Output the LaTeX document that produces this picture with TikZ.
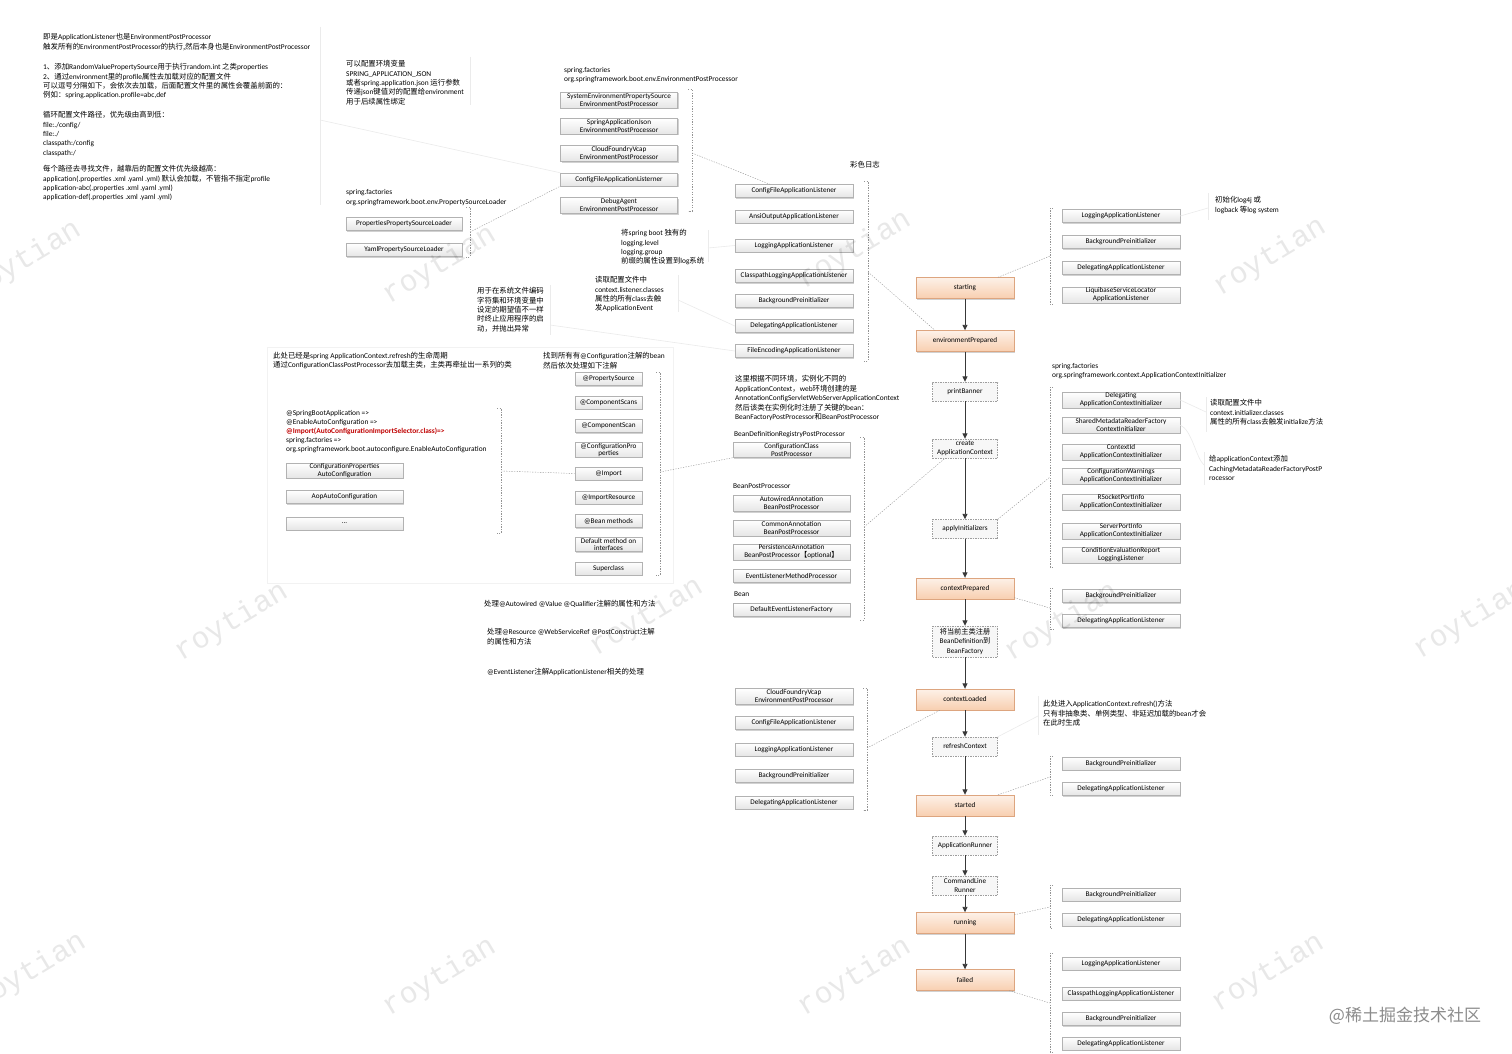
\documentclass[tikz,border=0pt]{standalone}
\usepackage{fontspec}
\setmainfont{Carlito}
\newfontfamily\cjk{Noto Sans CJK SC}
\newfontfamily\wmfont{Liberation Mono}
\usetikzlibrary{arrows.meta,shadows}
\newcommand\zh[1]{{\cjk #1}}
\newcommand\bxf{\fontsize{7.2}{8}\selectfont}
\newcommand\ntf{\fontsize{7.4}{9.3}\selectfont}
\definecolor{obord}{HTML}{DDA57F}
\definecolor{otop}{HTML}{FDF1E8}
\definecolor{obot}{HTML}{F8CFB0}
\definecolor{redt}{HTML}{C00000}
\begin{document}
\begin{tikzpicture}[x=1pt,y=-1pt,
  lb/.style={draw=black!30, top color=white, bottom color=black!10, minimum height=13pt, inner sep=0.5pt, font=\bxf, align=center,
    drop shadow={shadow xshift=1pt, shadow yshift=-1pt, opacity=0.18, fill=black}},
  lb2/.style={lb, minimum height=16pt},
  w118/.style={minimum width=118pt},
  w117/.style={minimum width=117pt},
  w67/.style={minimum width=67pt},
  ob/.style={draw=obord, top color=otop, bottom color=obot, minimum width=98pt, minimum height=21pt, font=\bxf, inner sep=0pt,
    drop shadow={shadow xshift=1pt, shadow yshift=-1pt, opacity=0.18, fill=black}},
  db/.style={draw=black!38, dash pattern=on 1.5pt off 1pt, fill=black!3, minimum width=65pt, minimum height=19pt, font=\bxf, align=center, inner sep=0.5pt},
  flow/.style={draw=black!78, line width=0.9pt, -{Triangle[length=5.5pt,width=5pt]}},
  conn/.style={draw=black!42, line width=0.4pt, dash pattern=on 1.3pt off 1.3pt},
  faint/.style={draw=black!8, line width=0.6pt},
  note/.style={anchor=north west, inner sep=0pt, font=\ntf, align=left},
  wm/.style={font=\wmfont\fontsize{30}{30}\selectfont, text=black, opacity=0.09, rotate=31}
]
\fill[white] (0,0) rectangle (1512,1054);
\useasboundingbox (0,0) rectangle (1512,1054);

% ---------- faint annotation lines ----------
\draw[faint, draw=black!5] (267,347) rectangle (673,583);
\draw[faint] (320,27) -- (320,205);
\draw[faint] (470,57) -- (470,105);
\draw[faint] (550,285) -- (550,335);
\draw[faint] (678,275) -- (678,312);
\draw[faint] (708,230) -- (708,262);
\draw[faint] (1208,193) -- (1208,220);
\draw[faint] (1206,397) -- (1206,432);
\draw[faint] (1204,452) -- (1204,485);
\draw[faint] (1038,696) -- (1038,735);

% ---------- top-left notes ----------
\node[note] (tl1) at (43,33.5) {\zh{即是}ApplicationListener\zh{也是}EnvironmentPostProcessor\\
\zh{触发所有的}EnvironmentPostProcessor\zh{的执行,然后本身也是}EnvironmentPostProcessor};
\node[note] (tl2) at (43,63.5) {1\zh{、添加}RandomValuePropertySource\zh{用于执行}random.int \zh{之类}properties\\
2\zh{、通过}environment\zh{里的}profile\zh{属性去加载对应的配置文件}\\
\zh{可以逗号分隔如下，会依次去加载，后面配置文件里的属性会覆盖前面的：}\\
\zh{例如：}spring.application.profile=abc,def};
\node[note] (tl3) at (43,111.5) {\zh{循环配置文件路径，优先级由高到低：}\\
file:./config/\\ file:./\\ classpath:/config\\ classpath:/};
\node[note] (tl4) at (43,165.5) {\zh{每个路径去寻找文件，越靠后的配置文件优先级越高：}\\
application(.properties .xml .yaml .yml) \zh{默认会加载，不管指不指定}profile\\
application-abc(.properties .xml .yaml .yml)\\
application-def(.properties .xml .yaml .yml)};

\node[note] (jsonnote) at (346,60.5) {\zh{可以配置环境变量}\\
SPRING\_APPLICATION\_JSON\\
\zh{或者}spring.application.json \zh{运行参数}\\
\zh{传递}json\zh{键值对的配置给}environment\\
\zh{用于后续属性绑定}};

\node[note] (sf1) at (564,67) {spring.factories\\ org.springframework.boot.env.EnvironmentPostProcessor};
\node[note] (sf2) at (346,189.5) {spring.factories\\ org.springframework.boot.env.PropertySourceLoader};
\node[note] (lognote) at (621,229.5) {\zh{将}spring boot \zh{独有的}\\ logging.level\\ logging.group\\ \zh{前缀的属性设置到}log\zh{系统}};
\node[note] (lsnnote) at (595,276.5) {\zh{读取配置文件中}\\ context.listener.classes\\ \zh{属性的所有}class\zh{去触}\\ \zh{发}ApplicationEvent};
\node[note] (encnote) at (477,287.5) {\zh{用于在系统文件编码}\\ \zh{字符集和环境变量中}\\ \zh{设定的期望值不一样}\\ \zh{时终止应用程序的启}\\ \zh{动，并抛出异常}};
\node[note] (cs) at (850,161.5) {\zh{彩色日志}};
\node[note] (log4j) at (1215,196.5) {\zh{初始化}log4j \zh{或}\\ logback \zh{等}log system};

\node[note] (refnote) at (273,351.5) {\zh{此处已经是}spring ApplicationContext.refresh\zh{的生命周期}\\
\zh{通过}ConfigurationClassPostProcessor\zh{去加载主类，主类再牵扯出一系列的类}};
\node[note] (cfgnote) at (543,352.5) {\zh{找到所有有}@Configuration\zh{注解的}bean\\ \zh{然后依次处理如下注解}};
\node[note, font=\fontsize{7.4}{9}\selectfont] (sba) at (286,410.5) {@SpringBootApplication =>\\ @EnableAutoConfiguration =>\\
{\color{redt}\bfseries @Import(AutoConfigurationImportSelector.class)=>}\\ spring.factories =>\\
org.springframework.boot.autoconfigure.EnableAutoConfiguration};

\node[note, font=\fontsize{7.4}{9.5}\selectfont] (ctxnote) at (735,375.5) {\zh{这里根据不同环境，实例化不同的}\\
ApplicationContext\zh{，}web\zh{环境创建的是}\\
AnnotationConfigServletWebServerApplicationContext\\
\zh{然后该类在实例化时注册了关键的}bean\zh{：}\\
BeanFactoryPostProcessor\zh{和}BeanPostProcessor};
\node[note] (bdrpp) at (734,431.5) {BeanDefinitionRegistryPostProcessor};
\node[note] (bpplab) at (733,483.5) {BeanPostProcessor};
\node[note] (beanlab) at (734,591.5) {Bean};

\node[note] (sf3) at (1052,363) {spring.factories\\ org.springframework.context.ApplicationContextInitializer};
\node[note] (ininote) at (1210,399.5) {\zh{读取配置文件中}\\ context.initializer.classes\\ \zh{属性的所有}class\zh{去触发}initialize\zh{方法}};
\node[note] (cachenote) at (1209,455.5) {\zh{给}applicationContext\zh{添加}\\ CachingMetadataReaderFactoryPostP\\ rocessor};

\node[note] (autonote) at (484,600.5) {\zh{处理}@Autowired @Value @Qualifier\zh{注解的属性和方法}};
\node[note] (resnote) at (487,628.5) {\zh{处理}@Resource @WebServiceRef @PostConstruct\zh{注解}\\ \zh{的属性和方法}};
\node[note] (evlnote) at (487,668.5) {@EventListener\zh{注解}ApplicationListener\zh{相关的处理}};
\node[note] (ref2note) at (1043,700.5) {\zh{此处进入}ApplicationContext.refresh()\zh{方法}\\
\zh{只有非抽象类、单例类型、非延迟加载的}bean\zh{才会}\\ \zh{在此时生成}};

% ---------- main flow ----------
\node[ob] (st) at (965,288) {starting};
\node[ob] (envp) at (965,341) {environmentPrepared};
\node[db] (pb) at (965,391.5) {printBanner};
\node[db, font=\fontsize{7.2}{9}\selectfont] (cac) at (965,448.5) {create\\ApplicationContext};
\node[db] (ai) at (965,529) {applyInitializers};
\node[ob] (cp) at (965,588.5) {contextPrepared};
\node[db, minimum height=31pt, font=\fontsize{7.2}{9.3}\selectfont] (reg) at (965,641.5) {\zh{将当前主类注册}\\BeanDefinition\zh{到}\\BeanFactory};
\node[ob] (cl) at (965,699.5) {contextLoaded};
\node[db] (rc) at (965,746.5) {refreshContext};
\node[ob] (sd) at (965,805.5) {started};
\node[db] (ar) at (965,845.5) {ApplicationRunner};
\node[db, font=\fontsize{7.2}{8.5}\selectfont] (clr) at (965,885.5) {CommandLine\\Runner};
\node[ob] (run) at (965,923) {running};
\node[ob] (fl) at (965,980) {failed};
\foreach \a/\b in {st/envp, envp/pb, pb/cac, cac/ai, ai/cp, cp/reg, reg/cl, cl/rc, rc/sd, sd/ar, ar/clr, clr/run, run/fl}
  \draw[flow] (\a.south) -- (\b.north);

% ---------- EnvironmentPostProcessor group ----------
\node[lb2,w117] (ep1) at (619,100) {SystemEnvironmentPropertySource\\EnvironmentPostProcessor};
\node[lb2,w117] (ep2) at (619,126.5) {SpringApplicationJson\\EnvironmentPostProcessor};
\node[lb2,w117] (ep3) at (619,153.5) {CloudFoundryVcap\\EnvironmentPostProcessor};
\node[lb,w117] (ep4) at (619,179.5) {ConfigFileApplicationListerner};
\node[lb2,w117] (ep5) at (619,205.5) {DebugAgent\\EnvironmentPostProcessor};
\draw[conn] (688,89) -- (692,89) -- (692,211) -- (688,211);
\coordinate (bep) at (692,153);

\node[lb,minimum width=116pt] (psl1) at (404,224) {PropertiesPropertySourceLoader};
\node[lb,minimum width=116pt] (psl2) at (404,250) {YamlPropertySourceLoader};
\draw[conn] (466,207) -- (470,207) -- (470,257) -- (466,257);
\coordinate (bpsl) at (470,232);
\draw[conn] (bpsl) -- (ep4.south west);

% ---------- environmentPrepared listeners ----------
\node[lb,w118] (el1) at (794,191) {ConfigFileApplicationListener};
\node[lb,w118] (el2) at (794,216.5) {AnsiOutputApplicationListener};
\node[lb,w118] (el3) at (794,245.5) {LoggingApplicationListener};
\node[lb,w118] (el4) at (794,276) {ClasspathLoggingApplicationListener};
\node[lb,w118] (el5) at (794,301) {BackgroundPreinitializer};
\node[lb,w118] (el6) at (794,326) {DelegatingApplicationListener};
\node[lb,w118] (el7) at (794,351) {FileEncodingApplicationListener};
\draw[conn] (864,181) -- (868,181) -- (868,361) -- (864,361);
\coordinate (bel) at (868,272);
\draw[conn] (bel) -- ([xshift=-30pt]envp.north);
\draw[conn] (bep) -- ([xshift=-24pt]el1.north);

% ---------- starting listeners ----------
\node[lb,w118] (s1) at (1121,216) {LoggingApplicationListener};
\node[lb,w118] (s2) at (1121,242) {BackgroundPreinitializer};
\node[lb,w118] (s3) at (1121,268) {DelegatingApplicationListener};
\node[lb2,w118] (s4) at (1121,295) {LiquibaseServiceLocator\\ApplicationListener};
\draw[conn] (1053,208) -- (1050,208) -- (1050,304) -- (1053,304);
\coordinate (bs) at (1050,256);
\draw[conn] ([xshift=33pt]st.north) -- (bs);

% ---------- initializers ----------
\node[lb2,w118] (i1) at (1121,400) {Delegating\\ApplicationContextInitializer};
\node[lb2,w118] (i2) at (1121,425) {SharedMetadataReaderFactory\\ContextInitializer};
\node[lb2,w118] (i3) at (1121,452) {ContextId\\ApplicationContextInitializer};
\node[lb2,w118] (i4) at (1121,476) {ConfigurationWarnings\\ApplicationContextInitializer};
\node[lb2,w118] (i5) at (1121,502) {RSocketPortInfo\\ApplicationContextInitializer};
\node[lb2,w118] (i6) at (1121,531) {ServerPortInfo\\ApplicationContextInitializer};
\node[lb2,w118] (i7) at (1121,555) {ConditionEvaluationReport\\LoggingListener};
\draw[conn] (1053,387) -- (1050,387) -- (1050,567) -- (1053,567);
\coordinate (bi) at (1050,477);
\draw[conn] (ai.north east) -- (bi);

% ---------- contextPrepared listeners ----------
\node[lb,w118] (p1) at (1121,596) {BackgroundPreinitializer};
\node[lb,w118] (p2) at (1121,621) {DelegatingApplicationListener};
\draw[conn] (1053,588) -- (1050,588) -- (1050,629) -- (1053,629);
\coordinate (bp) at (1050,608);
\draw[conn] ([yshift=1.5pt]cp.south east) -- (bp);

% ---------- contextLoaded listeners ----------
\node[lb2,w118] (c1) at (794,696.5) {CloudFoundryVcap\\EnvironmentPostProcessor};
\node[lb,w118] (c2) at (794,723) {ConfigFileApplicationListener};
\node[lb,w118] (c3) at (794,749.5) {LoggingApplicationListener};
\node[lb,w118] (c4) at (794,776) {BackgroundPreinitializer};
\node[lb,w118] (c5) at (794,802.5) {DelegatingApplicationListener};
\draw[conn] (863,688) -- (867,688) -- (867,810) -- (863,810);
\coordinate (bc) at (867,748);
\draw[conn] (bc) -- ([xshift=-25pt]cl.south);

% ---------- started / running / failed ----------
\node[lb,w118] (r1) at (1121,763.5) {BackgroundPreinitializer};
\node[lb,w118] (r2) at (1121,789) {DelegatingApplicationListener};
\draw[conn] (1053,756) -- (1050,756) -- (1050,795) -- (1053,795);
\coordinate (br) at (1050,777);
\draw[conn] ([xshift=33pt]sd.north) -- (br);

\node[lb,w118] (u1) at (1121,894.5) {BackgroundPreinitializer};
\node[lb,w118] (u2) at (1121,919.5) {DelegatingApplicationListener};
\draw[conn] (1053,885) -- (1050,885) -- (1050,928) -- (1053,928);
\coordinate (bu) at (1050,907);
\draw[conn] ([yshift=-2.5pt]run.north east) -- (bu);

\node[lb,w118] (f1) at (1121,963.5) {LoggingApplicationListener};
\node[lb,w118] (f2) at (1121,993.5) {ClasspathLoggingApplicationListener};
\node[lb,w118] (f3) at (1121,1019) {BackgroundPreinitializer};
\node[lb,w118] (f4) at (1121,1043.5) {DelegatingApplicationListener};
\draw[conn] (1053,953) -- (1050,953) -- (1050,1052) -- (1053,1052);
\coordinate (bf) at (1050,1003);
\draw[conn] ([xshift=-5pt]fl.south east) -- (bf);

% ---------- BeanPostProcessors ----------
\node[lb2,w117,minimum height=15pt] (ccpp) at (791.5,450) {ConfigurationClass\\PostProcessor};
\node[lb2,w117] (bp1) at (791.5,503.5) {AutowiredAnnotation\\BeanPostProcessor};
\node[lb2,w117] (bp2) at (791.5,528) {CommonAnnotation\\BeanPostProcessor};
\node[lb2,w117] (bp3) at (791.5,552) {PersistenceAnnotation\\BeanPostProcessor\zh{【}optional\zh{】}};
\node[lb,w117] (bp4) at (791.5,576) {EventListenerMethodProcessor};
\node[lb,w117] (bp5) at (791.5,610) {DefaultEventListenerFactory};
\draw[conn] (860,437) -- (864,437) -- (864,620) -- (860,620);
\coordinate (bb) at (864,527);
\draw[conn] (bb) -- ([xshift=-20pt]cac.south);

% ---------- annotations ----------
\node[lb,w67] (an1) at (608.5,379) {@PropertySource};
\node[lb,w67] (an2) at (608.5,402.5) {@ComponentScans};
\node[lb,w67] (an3) at (608.5,426) {@ComponentScan};
\node[lb,w67,minimum height=14pt,font=\fontsize{7.2}{7.6}\selectfont] (an4) at (608.5,450) {@ConfigurationPro\\perties};
\node[lb,w67] (an5) at (608.5,473.5) {@Import};
\node[lb,w67] (an6) at (608.5,497.5) {@ImportResource};
\node[lb,w67] (an7) at (608.5,521) {@Bean methods};
\node[lb,w67,minimum height=14pt,font=\fontsize{7.2}{7.6}\selectfont] (an8) at (608.5,544.5) {Default method on\\interfaces};
\node[lb,w67] (an9) at (608.5,568.5) {Superclass};
\draw[conn] (656,372) -- (660,372) -- (660,575) -- (656,575);
\coordinate (ban) at (660,472);
\draw[conn] (ban) -- (ccpp.south west);

\node[lb,w117,minimum height=14pt,font=\fontsize{7.2}{7.6}\selectfont] (ac1) at (344.5,470.5) {ConfigurationProperties\\AutoConfiguration};
\node[lb,w117] (ac2) at (344.5,497) {AopAutoConfiguration};
\node[lb,w117] (ac3) at (344.5,523.5) {...};
\draw[conn] (497,408) -- (501,408) -- (501,533) -- (497,533);
\coordinate (bac) at (501,471);
\draw[conn] (bac) -- (an5.west);

% ---------- faint leaders ----------
\draw[faint] (320,120) -- (ep4.north west);
\draw[faint] (550,325) -- (el7.west);
\draw[faint] (678,300) -- (el6.west);
\draw[faint] (708,248) -- (el3.west);
\draw[faint] (s1.east) -- (1208,208);
\draw[faint] (i1.east) -- (1206,412);
\draw[faint] (i2.east) .. controls (1192,430) and (1196,458) .. (1204,465);
\draw[faint] (rc.north east) -- (1038,716);

% ---------- watermarks ----------
\node[wm] (wm1) at (25,260) {roytian};
\node[wm] (wm2) at (440,265) {roytian};
\node[wm] (wm3) at (855,250) {roytian};
\node[wm] (wm4) at (1270,257) {roytian};
\node[wm] (wm5) at (232,622) {roytian};
\node[wm] (wm6) at (647,617) {roytian};
\node[wm] (wm7) at (1062,622) {roytian};
\node[wm] (wm8) at (1470,620) {roytian};
\node[wm] (wm9) at (30,972) {roytian};
\node[wm] (wm10) at (440,977) {roytian};
\node[wm] (wm11) at (855,977) {roytian};
\node[wm] (wm12) at (1268,973) {roytian};
\node[font=\cjk\fontsize{17}{17}\selectfont, text=black!45] (logo) at (1405,1016) {@稀土掘金技术社区};
\end{tikzpicture}
\end{document}
